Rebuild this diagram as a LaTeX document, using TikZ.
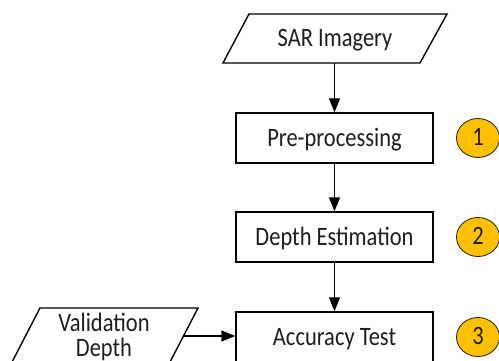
\documentclass[tikz,border=0pt]{standalone}
\usepackage{fontspec}
\setmainfont{Carlito}
\usetikzlibrary{shapes.geometric,arrows.meta,calc}
\definecolor{stepgold}{HTML}{FFC000}
\definecolor{inkgray}{HTML}{1E1E1E}
% taller lettering, as the labels are set slightly condensed
\newcommand{\lbl}[1]{\scalebox{1}[1.18]{#1}}
\begin{document}
\begin{tikzpicture}[x=1pt,y=-1pt,
  every node/.style={font=\fontsize{22.5}{25}\selectfont, text=inkgray},
  capcentre/.style={text height=16.8pt, text depth=0pt},
  procbox/.style={draw=black, line width=1.4pt, minimum width=197pt, minimum height=50pt, inner sep=0pt, capcentre},
  dataslot/.style={inner sep=0pt, capcentre},
  outline/.style={draw=black, line width=1.4pt, line join=miter},
  badge/.style={ellipse, draw=inkgray, line width=0.8pt, fill=stepgold, minimum width=43pt, minimum height=39pt,
    inner sep=0pt, text height=15pt, text depth=0pt},
  flow/.style={line width=1.4pt, -{Triangle[length=14pt,width=11pt]}}]
\useasboundingbox (0,0) rectangle (499,361);
\clip (0,0) rectangle (499,361);

% input data (parallelograms)
\node[dataslot, minimum width=198pt, minimum height=49pt] (sar) at (335,38.5) {\lbl{SAR Imagery}};
\draw[outline] ($(sar.center)+(-86,-24.5)$) -- ($(sar.center)+(112,-24.5)$)
  -- ($(sar.center)+(85,24.5)$) -- ($(sar.center)+(-112,24.5)$) -- cycle;

\node[dataslot, minimum width=158pt, minimum height=56pt] (val) at (104.5,336) {};
\draw[outline] ($(val.center)+(-64.5,-28)$) -- ($(val.center)+(93.5,-28)$)
  -- ($(val.center)+(64.5,28)$) -- ($(val.center)+(-93.5,28)$) -- cycle;
\node[anchor=base, inner sep=0pt] (valtop) at (104,331.5) {\lbl{Validation}};
\node[anchor=base, inner sep=0pt] (valbot) at (104,356) {\lbl{Depth}};

% processing steps
\node[procbox] (pre) at (334.5,138) {\lbl{Pre-processing}};
\node[procbox] (est) at (334.5,237) {\lbl{Depth Estimation}};
\node[procbox] (acc) at (334.5,337) {\lbl{Accuracy Test}};

% step numbers
\node[badge] (b1) at (478,138) {\lbl{1}};
\node[badge] (b2) at (478,237) {\lbl{2}};
\node[badge] (b3) at (478,337) {\lbl{3}};

\draw[flow] (sar.south -| pre.north) -- (pre.north);
\draw[flow] (pre.south) -- (est.north);
\draw[flow] (est.south) -- (acc.north);
\draw[flow] (val.east) -- (val.east -| acc.west);
\end{tikzpicture}
\end{document}
